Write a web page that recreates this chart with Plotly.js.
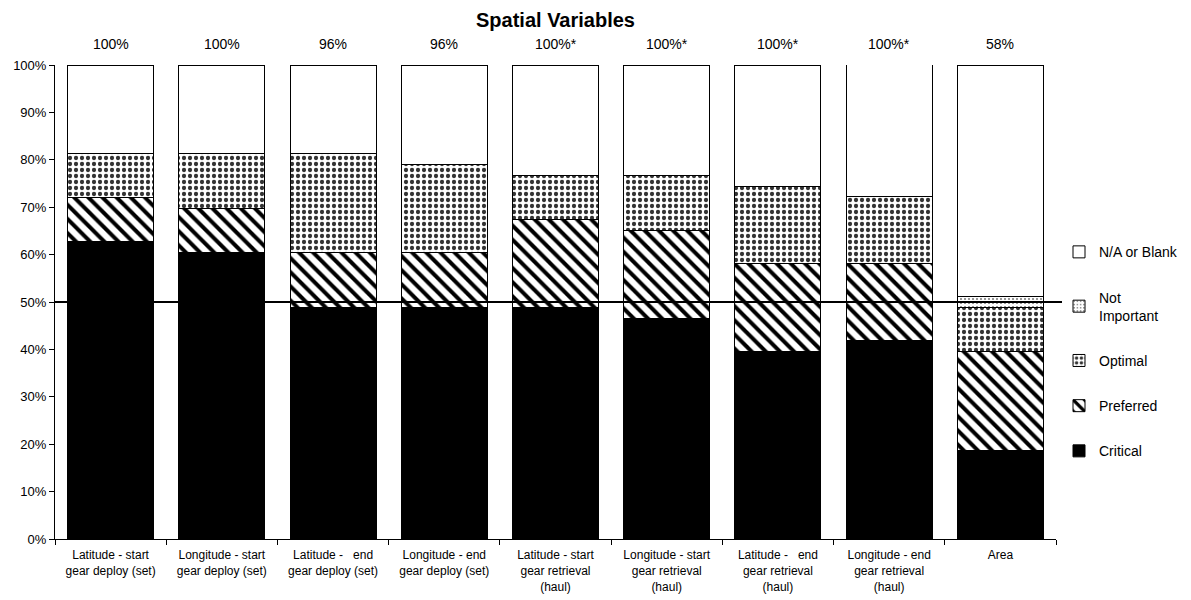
<!DOCTYPE html>
<html>
<head>
<meta charset="utf-8">
<script src="https://cdn.plot.ly/plotly-3.0.1.min.js"></script>
<style>html,body{margin:0;padding:0;background:#fff;}#chart{width:1191px;height:600px;}</style>
</head>
<body>
<div id="chart"></div>
<script>
var categories = [
  "Latitude - start<br>gear deploy (set)",
  "Longitude - start<br>gear deploy (set)",
  "Latitude -\u00a0\u00a0\u00a0end<br>gear deploy (set)",
  "Longitude - end<br>gear deploy (set)",
  "Latitude - start<br>gear retrieval<br>(haul)",
  "Longitude - start<br>gear retrieval<br>(haul)",
  "Latitude -\u00a0\u00a0\u00a0end<br>gear retrieval<br>(haul)",
  "Longitude - end<br>gear retrieval<br>(haul)",
  "Area"
];
var critical     = [62.8, 60.5, 48.8, 48.8, 48.8, 46.5, 39.5, 41.9, 18.6];
var preferred    = [9.3, 9.3, 11.6, 11.6, 18.6, 18.6, 18.6, 16.3, 20.9];
var optimal      = [9.3, 11.6, 20.9, 18.6, 9.3, 11.6, 16.3, 14.0, 9.3];
var notImportant = [0, 0, 0, 0, 0, 0, 0, 0, 2.3];
var naBlank      = [18.6, 18.6, 18.6, 20.9, 23.3, 23.3, 25.6, 27.9, 48.8];
var topLabels    = ["100%", "100%", "96%", "96%", "100%*", "100%*", "100%*", "100%*", "58%"];

var font = "Arial, 'Liberation Sans', sans-serif";
var outline = {color: "#000", width: 1};

function trace(name, vals, marker, rank) {
  marker.line = outline;
  return {type: "bar", name: name, x: categories, y: vals, marker: marker,
          legendgroup: name, legendrank: rank, hoverinfo: "y+name"};
}

var data = [
  trace("Critical", critical, {color: "#000"}, 5),
  trace("Preferred", preferred, {color: "#fff",
        pattern: {shape: "\\", fgcolor: "#000", bgcolor: "#fff", size: 10, solidity: 0.4, fillmode: "replace"}}, 4),
  trace("Optimal", optimal, {color: "#fff",
        pattern: {shape: ".", fgcolor: "#333", bgcolor: "#fff", size: 6, solidity: 0.4, fillmode: "replace"}}, 3),
  trace("Not<br>Important", notImportant, {color: "#fff",
        pattern: {shape: ".", fgcolor: "#777", bgcolor: "#fff", size: 4, solidity: 0.2, fillmode: "replace"}}, 2),
  trace("N/A or Blank", naBlank, {color: "#fff"}, 1)
];

var annotations = categories.map(function (c, i) {
  return {x: c, y: 100, xref: "x", yref: "y", text: topLabels[i], showarrow: false,
          yanchor: "bottom", yshift: 11, font: {family: font, size: 14, color: "#000"}};
});

var layout = {
  width: 1191, height: 600,
  margin: {l: 55, r: 135, t: 65, b: 61, pad: 0, autoexpand: false},
  paper_bgcolor: "#fff", plot_bgcolor: "#fff",
  font: {family: font, color: "#000"},
  title: {text: "<b>Spatial Variables</b>", x: 0.5, xref: "paper", y: 0.966, yanchor: "middle",
          font: {family: font, size: 20, color: "#000"}},
  barmode: "stack",
  bargap: 0.227,
  showlegend: true,
  legend: {x: 1.003, xanchor: "left", y: 0.395, yanchor: "middle", traceorder: "grouped",
           tracegroupgap: 24, itemwidth: 30, font: {family: font, size: 14, color: "#000"},
           bgcolor: "rgba(0,0,0,0)"},
  xaxis: {type: "category", showline: true, linecolor: "#000", linewidth: 1,
          ticks: "outside", tickson: "boundaries", ticklen: 5, tickcolor: "#000",
          ticklabelstandoff: 5,
          tickfont: {family: font, size: 12, color: "#000"}, showgrid: false, fixedrange: true},
  yaxis: {range: [0, 100], dtick: 10, ticksuffix: "%", showline: true, linecolor: "#000",
          linewidth: 1, ticks: "outside", ticklen: 5, tickcolor: "#000", showgrid: false,
          zeroline: false, tickfont: {family: font, size: 13, color: "#000"}, fixedrange: true},
  shapes: [{type: "line", xref: "paper", yref: "y", x0: 0, x1: 1.006, y0: 50, y1: 50,
            line: {color: "#000", width: 2}}],
  annotations: annotations
};

Plotly.newPlot("chart", data, layout, {displayModeBar: false, staticPlot: true});
</script>
</body>
</html>
